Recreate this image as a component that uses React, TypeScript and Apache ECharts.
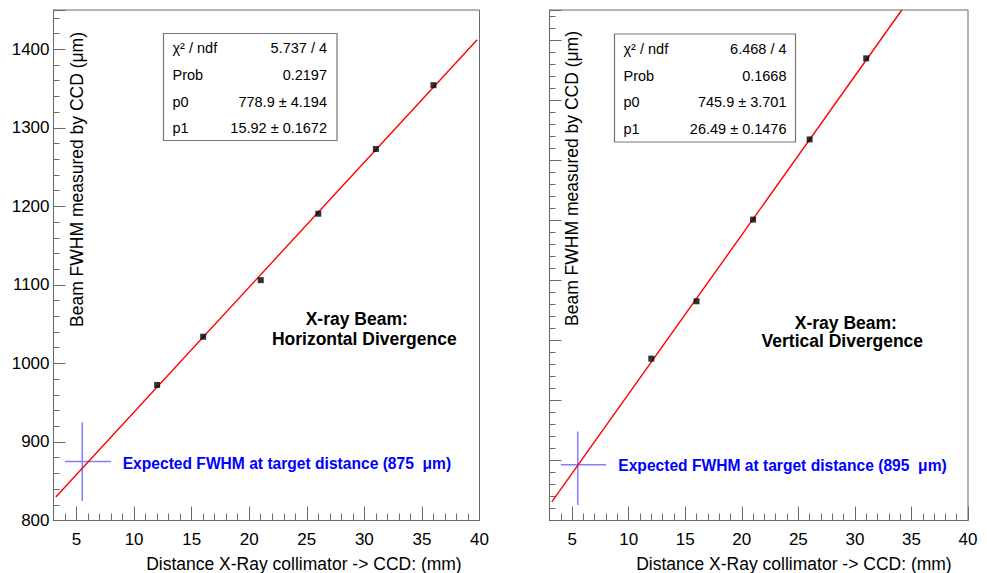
import React, { useEffect, useRef } from "react";
import * as echarts from "echarts";

// ---- data ----
const distances = [12, 16, 21, 26, 31, 36];
const horizFwhm = [972.6, 1034, 1106, 1190.6, 1273, 1354.3];
const vertFwhm = [1069.5, 1165, 1301, 1434.5, 1569.5, 1700];

const horizFitX = [3.2, 39.8];
const horizFitY = [830, 1412];
const vertFitX = [3.2, 34.15];
const vertFitY = [831, 1650];

// expected FWHM cross (vertical at target distance, horizontal bar)
const crossX = 5.5;
const crossBarX = [4, 8];
const horizExpected = 875;
const horizCrossY = [825, 925];
const vertExpected = 893;
const vertCrossY = [826, 948];

const statsLabels = ["χ² / ndf", "Prob", "p0", "p1"];
const horizStats = ["5.737 / 4", "0.2197", "778.9 ± 4.194", "15.92 ± 0.1672"];
const vertStats = ["6.468 / 4", "0.1668", "745.9 ± 3.701", "26.49 ± 0.1476"];

const xTitle = "Distance X-Ray collimator -> CCD: (mm)";
const yTitle = "Beam FWHM measured by CCD (μm)";

const FONT = "'Liberation Sans', Arial, Helvetica, sans-serif";
const FRAME = "#6a6a6a";

function xAxisOpt(gridIndex: number) {
  return {
    type: "value",
    gridIndex,
    min: 3,
    max: 40,
    splitNumber: 7,
    minInterval: 5,
    maxInterval: 5,
    axisLine: { show: true, lineStyle: { color: FRAME, width: 1 } },
    axisTick: { show: true, inside: true, length: 14, lineStyle: { color: FRAME } },
    minorTick: { show: true, splitNumber: 5, length: 7, lineStyle: { color: FRAME } },
    splitLine: { show: false },
    minorSplitLine: { show: false },
    axisLabel: {
      show: true,
      showMinLabel: false,
      margin: 10,
      color: "#000",
      fontSize: 17,
      fontFamily: FONT,
      formatter: (v: number) => String(v),
    },
  };
}

function yAxisOpt(gridIndex: number, max: number, labels: boolean) {
  return {
    type: "value",
    gridIndex,
    min: 800,
    max,
    interval: 100,
    axisLine: { show: true, lineStyle: { color: FRAME, width: 1 } },
    axisTick: { show: true, inside: true, length: 12, lineStyle: { color: FRAME } },
    minorTick: { show: true, splitNumber: 5, length: 6, lineStyle: { color: FRAME } },
    splitLine: { show: false },
    minorSplitLine: { show: false },
    axisLabel: {
      show: labels,
      showMaxLabel: false,
      margin: 4,
      color: "#000",
      fontSize: 17,
      fontFamily: FONT,
      formatter: (v: number) => String(v),
    },
  };
}

function statsBox(
  left: number,
  top: number,
  width: number,
  height: number,
  labelX: number,
  valueX: number,
  rowY: number[],
  values: string[]
) {
  const els: any[] = [
    {
      type: "rect",
      shape: { x: left, y: top, width, height },
      style: { fill: "#fff", stroke: "#777", lineWidth: 1.2 },
      z: 10,
    },
  ];
  statsLabels.forEach((lab, i) => {
    els.push({
      type: "text",
      x: labelX,
      y: rowY[i],
      z: 11,
      style: {
        text: lab,
        fill: "#000",
        font: `14.5px ${FONT}`,
        align: "left",
        textAlign: "left",
        verticalAlign: "middle",
        textVerticalAlign: "middle",
      },
    });
    els.push({
      type: "text",
      x: valueX,
      y: rowY[i],
      z: 11,
      style: {
        text: values[i],
        fill: "#000",
        font: `14.5px ${FONT}`,
        align: "right",
        textAlign: "right",
        verticalAlign: "middle",
        textVerticalAlign: "middle",
      },
    });
  });
  return els;
}

function txt(text: string, x: number, y: number, opts: any = {}) {
  const align = opts.align || "center";
  return {
    type: "text",
    x,
    y,
    rotation: opts.rotation || 0,
    z: 12,
    style: {
      text,
      fill: opts.color || "#000",
      font: `${opts.bold ? "bold " : ""}${opts.size || 16}px ${FONT}`,
      align,
      textAlign: align,
      verticalAlign: "middle",
      textVerticalAlign: "middle",
    },
  };
}

export default function App() {
  const ref = useRef<HTMLDivElement>(null);

  useEffect(() => {
    if (!ref.current) return;
    const chart = echarts.init(ref.current, undefined, { renderer: "svg" });

    const pts = (ys: number[]) => distances.map((d, i) => [d, ys[i]]);
    const fit = (xs: number[], ys: number[]) => xs.map((x, i) => [x, ys[i]]);

    const lineSeries = (idx: number, data: number[][], color: string, width: number, z = 2) => ({
      type: "line",
      xAxisIndex: idx,
      yAxisIndex: idx,
      data,
      showSymbol: false,
      symbol: "none",
      clip: true,
      silent: true,
      z,
      lineStyle: { color, width },
    });

    const option: any = {
      animation: false,
      backgroundColor: "#fff",
      grid: [
        {
          left: 53.5,
          top: 10,
          width: 426,
          height: 510.5,
          show: true,
          borderColor: FRAME,
          borderWidth: 1,
          backgroundColor: "transparent",
        },
        {
          left: 549.5,
          top: 10,
          width: 418.5,
          height: 510.5,
          show: true,
          borderColor: FRAME,
          borderWidth: 1,
          backgroundColor: "transparent",
        },
      ],
      xAxis: [xAxisOpt(0), xAxisOpt(1)],
      yAxis: [yAxisOpt(0, 1450, true), yAxisOpt(1, 1650, false)],
      series: [
        lineSeries(0, fit(horizFitX, horizFitY), "#ff0000", 1.4, 3),
        lineSeries(1, fit(vertFitX, vertFitY), "#ff0000", 1.4, 3),
        lineSeries(0, [[crossX, horizCrossY[0]], [crossX, horizCrossY[1]]], "#8080ff", 1.5),
        lineSeries(0, [[crossBarX[0], horizExpected], [crossBarX[1], horizExpected]], "#8080ff", 1.5),
        lineSeries(1, [[crossX, vertCrossY[0]], [crossX, vertCrossY[1]]], "#8080ff", 1.5),
        lineSeries(1, [[crossBarX[0], vertExpected], [crossBarX[1], vertExpected]], "#8080ff", 1.5),
        {
          type: "scatter",
          xAxisIndex: 0,
          yAxisIndex: 0,
          data: pts(horizFwhm),
          symbol: "rect",
          symbolSize: 6,
          clip: true,
          z: 4,
          itemStyle: { color: "#000" },
        },
        {
          type: "scatter",
          xAxisIndex: 1,
          yAxisIndex: 1,
          data: pts(vertFwhm),
          symbol: "rect",
          symbolSize: 6,
          clip: true,
          z: 4,
          itemStyle: { color: "#000" },
        },
      ],
      graphic: [
        ...statsBox(163.5, 33.5, 173.5, 107, 172.5, 327, [47.5, 75, 101.5, 128], horizStats),
        ...statsBox(614.5, 34, 181, 108, 623.5, 786.5, [48.5, 75.5, 102, 128.5], vertStats),
        txt("X-ray Beam:", 356.7, 318.5, { bold: true, size: 17.5 }),
        txt("Horizontal Divergence", 364.3, 338.5, { bold: true, size: 17.5 }),
        txt("X-ray Beam:", 845.8, 322.5, { bold: true, size: 17.5 }),
        txt("Vertical Divergence", 842.3, 341, { bold: true, size: 17.5 }),
        txt("Expected FWHM at target distance (875  μm)", 122.7, 463, {
          bold: true,
          size: 15.6,
          color: "#0000ff",
          align: "left",
        }),
        txt("Expected FWHM at target distance (895  μm)", 618.3, 465.5, {
          bold: true,
          size: 15.6,
          color: "#0000ff",
          align: "left",
        }),
        txt(xTitle, 461.7, 563.5, { size: 17.5, align: "right" }),
        txt(xTitle, 951.7, 563.5, { size: 17.5, align: "right" }),
        txt(yTitle, 76.5, 32, { size: 17.5, align: "right", rotation: Math.PI / 2 }),
        txt(yTitle, 572, 31, { size: 17.5, align: "right", rotation: Math.PI / 2 }),
      ],
    };

    chart.setOption(option);
    return () => chart.dispose();
  }, []);

  return (
    <div
      ref={ref}
      style={{ position: "absolute", left: 0, top: 0, width: 987, height: 573, background: "#fff" }}
    />
  );
}
